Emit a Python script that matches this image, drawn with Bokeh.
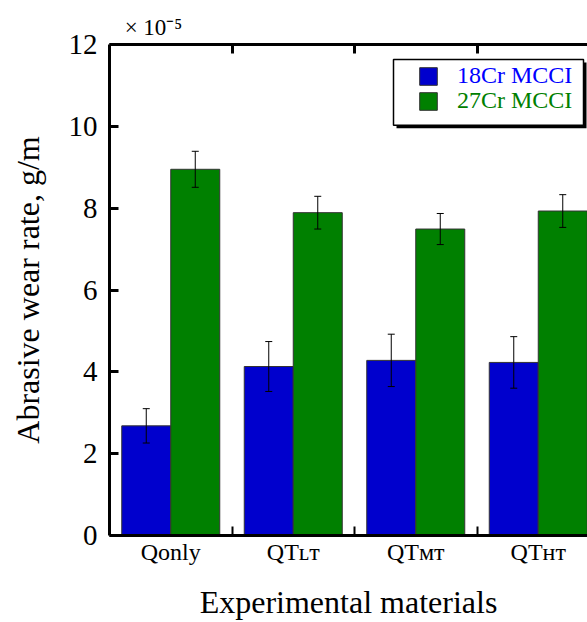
from bokeh.plotting import figure
from bokeh.models import (Range1d, LinearAxis, FixedTicker, ColumnDataSource, Whisker,
                          TeeHead, Legend, LegendItem, BoxAnnotation)
from bokeh.embed import file_html
from bokeh.resources import INLINE
import numpy as np

# ---------------- data (values in units of 1e-5 g/m) ----------------
categories = ["Qonly", "QTLT", "QTMT", "QTHT"]
category_labels = ["Qonly", "QTʟᴛ", "QTᴍᴛ", "QTʜᴛ"]   # LT/MT/HT set as small capitals
series_names = ["18Cr MCCI", "27Cr MCCI"]
rate_18cr = [2.68, 4.13, 4.28, 4.23]
err_18cr = [0.42, 0.61, 0.64, 0.63]
rate_27cr = [8.95, 7.89, 7.49, 7.93]
err_27cr = [0.44, 0.40, 0.38, 0.40]
y_ticks = [0, 2, 4, 6, 8, 10, 12]
multiplier_text = "× 10⁻⁵"

FONT = "Liberation Serif"
BLUE = "#0000CD"
GREEN = "#008000"

W, H = 587, 622
LEFT, TOP, BOTTOM = 109, 44, 86
X0, X1 = 0.5, 4.402
Y0, Y1 = 0, 12

p = figure(width=W, height=H, x_range=Range1d(X0, X1), y_range=Range1d(Y0, Y1),
           output_backend="svg", toolbar_location=None,
           min_border_left=LEFT, min_border_right=0, min_border_top=TOP,
           min_border_bottom=BOTTOM, outline_line_color=None,
           x_axis_type=None, y_axis_type=None)
p.xgrid.visible = False
p.ygrid.visible = False
p.background_fill_color = "white"
p.border_fill_color = "white"

fw = W - LEFT
fh = H - TOP - BOTTOM
def dx(px):
    return X0 + (px - LEFT) / fw * (X1 - X0)
def dy(py):
    return Y0 + (H - BOTTOM - py) / fh * (Y1 - Y0)

idx = np.arange(1, len(categories) + 1)
bounds = list(idx[:-1] + 0.5)
src = ColumnDataSource(dict(
    xb=idx - 0.2, xg=idx + 0.2,
    b=rate_18cr, g=rate_27cr,
    bu=np.array(rate_18cr) + np.array(err_18cr), bl=np.array(rate_18cr) - np.array(err_18cr),
    gu=np.array(rate_27cr) + np.array(err_27cr), gl=np.array(rate_27cr) - np.array(err_27cr),
))

rb = p.vbar(x="xb", top="b", width=0.4, source=src, fill_color=BLUE,
            line_color="#333333", line_width=1)
rg = p.vbar(x="xg", top="g", width=0.4, source=src, fill_color=GREEN,
            line_color="#333333", line_width=1)

for base, up, lo in (("xb", "bu", "bl"), ("xg", "gu", "gl")):
    w = Whisker(base=base, upper=up, lower=lo, source=src, line_color="black", line_width=1,
                level="overlay",
                upper_head=TeeHead(size=7, line_color="black", line_width=1),
                lower_head=TeeHead(size=7, line_color="black", line_width=1))
    p.add_layout(w)

# ---------------- axes ----------------
yax = LinearAxis(ticker=FixedTicker(ticks=y_ticks), axis_label="Abrasive wear rate, g/m")
yax.major_label_overrides = {t: str(t) for t in y_ticks}
yax.axis_line_width = 3
yax.major_tick_line_width = 3
yax.major_tick_in = 9
yax.major_tick_out = 0
yax.minor_tick_line_color = None
yax.major_label_standoff = 12
yax.major_label_text_font = FONT
yax.major_label_text_font_size = "29px"
yax.major_label_text_color = "black"
yax.axis_label_text_font = FONT
yax.axis_label_text_font_size = "32px"
yax.axis_label_text_font_style = "normal"
yax.axis_label_text_color = "black"
yax.axis_label_standoff = 20
p.add_layout(yax, "left")

xax = LinearAxis(ticker=FixedTicker(ticks=list(idx), minor_ticks=bounds),
                 axis_label="Experimental materials")
xax.major_label_overrides = {int(i): lab for i, lab in zip(idx, category_labels)}
xax.axis_line_width = 3
xax.major_tick_line_color = None
xax.major_tick_in = 0
xax.major_tick_out = 0
xax.minor_tick_line_width = 2
xax.minor_tick_line_color = "black"
xax.minor_tick_in = 9
xax.minor_tick_out = 0
xax.major_label_standoff = 3
xax.major_label_text_font = FONT
xax.major_label_text_font_size = "24px"
xax.major_label_text_color = "black"
xax.axis_label_text_font = FONT
xax.axis_label_text_font_size = "32px"
xax.axis_label_text_font_style = "normal"
xax.axis_label_text_color = "black"
xax.axis_label_standoff = 16
p.add_layout(xax, "below")

mult_x = dx(153)
tax = LinearAxis(ticker=FixedTicker(ticks=[mult_x], minor_ticks=bounds))
tax.major_label_overrides = {mult_x: multiplier_text}
tax.major_label_text_font = FONT
tax.major_label_text_font_size = "23px"
tax.major_label_text_color = "black"
tax.major_label_standoff = 5
tax.major_tick_line_color = None
tax.major_tick_in = 0
tax.major_tick_out = 0
tax.axis_line_width = 3
tax.minor_tick_line_width = 3
tax.minor_tick_line_color = "black"
tax.minor_tick_in = 9
tax.minor_tick_out = 0
p.add_layout(tax, "above")

# ---------------- legend ----------------
p.add_layout(BoxAnnotation(left=dx(396), right=dx(586), top=dy(62), bottom=dy(128),
                           fill_color="black", fill_alpha=1, line_color=None))
p.add_layout(BoxAnnotation(left=dx(393), right=dx(583), top=dy(59), bottom=dy(125),
                           fill_color="white", fill_alpha=1, line_color="black",
                           line_width=1.5, line_alpha=1))

for r, name, col, bot in ((rb, series_names[0], "#0000FF", 90), (rg, series_names[1], GREEN, 115)):
    lg = Legend(items=[LegendItem(label=name, renderers=[r])],
                location=(417 - LEFT, H - BOTTOM - bot),
                padding=0, margin=0, spacing=0, glyph_width=22, glyph_height=22,
                label_standoff=18, label_height=22,
                label_text_font=FONT, label_text_font_size="24px", label_text_color=col,
                border_line_color=None, background_fill_alpha=0)
    p.add_layout(lg, "center")

open("out.html", "w").write(file_html(p, INLINE))
